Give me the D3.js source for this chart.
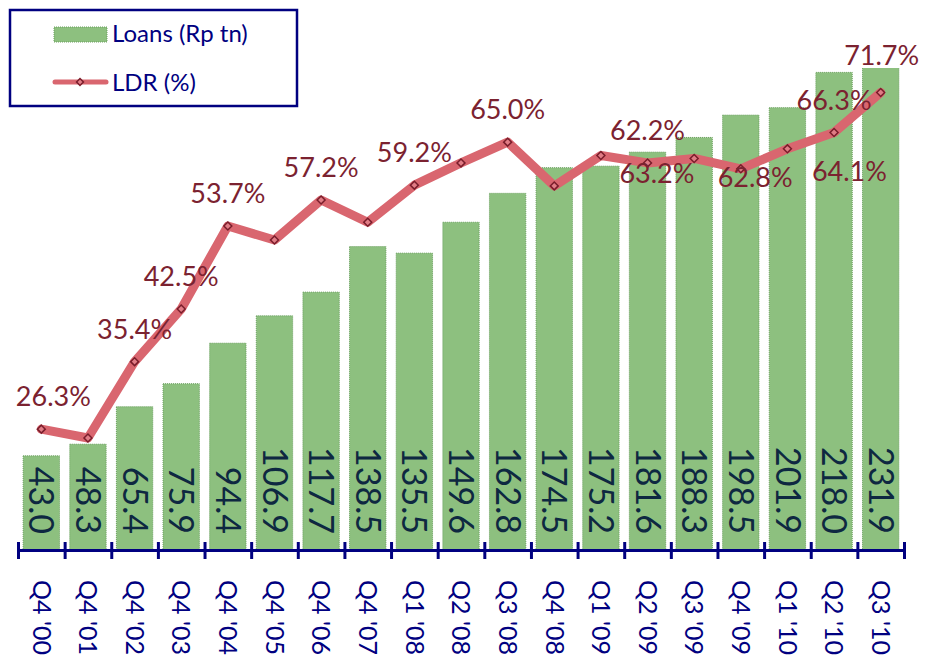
<!DOCTYPE html>
<html>
<head>
<meta charset="utf-8">
<script src="https://cdnjs.cloudflare.com/ajax/libs/d3/7.8.5/d3.min.js"></script>
<style>
    body { margin: 0; background: #fff; }
    svg { display: block; font-family: Lato, "Noto Sans", sans-serif; }
</style>
</head>
<body>
<div id="graph"></div>
<script>
var quarters = ["Q4 '00", "Q4 '01", "Q4 '02", "Q4 '03", "Q4 '04", "Q4 '05", "Q4 '06", "Q4 '07",
    "Q1 '08", "Q2 '08", "Q3 '08", "Q4 '08", "Q1 '09", "Q2 '09", "Q3 '09", "Q4 '09",
    "Q1 '10", "Q2 '10", "Q3 '10"];
var loans = [43.0, 48.3, 65.4, 75.9, 94.4, 106.9, 117.7, 138.5, 135.5, 149.6, 162.8, 174.5,
    175.2, 181.6, 188.3, 198.5, 201.9, 218.0, 231.9];
var ldr = [26.3, 25.1, 35.4, 42.5, 53.7, 51.8, 57.2, 54.2, 59.2, 62.2, 65.0, 59.1,
    63.2, 62.2, 62.8, 61.4, 64.1, 66.3, 71.7];
var ldrLabelled = [0, 2, 3, 4, 6, 8, 10, 12, 13, 14, 16, 17, 18];
var loansDomain = [0, 220];
var ldrDomain = [10, 75];
var legendNames = ["Loans (Rp tn)", "LDR (%)"];

(function () {
    var width = 926,
        height = 658;
    var plot = { left: 18, right: 904, top: 68, bottom: 550 };
    var navy = "#000080";

    // label nudges, like the hand-placed ones on the slide
    var labelShift = {
        0: [12, -23], 12: [56, 27], 14: [61, 29], 16: [62, 32], 18: [1, -27]
    };

    var svg = d3.select("#graph")
        .append("svg")
        .attr("width", width)
        .attr("height", height);

    var x = d3.scaleBand()
        .domain(quarters)
        .range([plot.left, plot.right])
        .paddingInner(0.22)
        .paddingOuter(0.11);

    var edge = d3.scaleLinear()
        .domain([0, quarters.length])
        .range([plot.left, plot.right]);

    var y = d3.scaleLinear()
        .domain(loansDomain)
        .range([plot.bottom, plot.top]);

    var y2 = d3.scaleLinear()
        .domain(ldrDomain)
        .range([plot.bottom, plot.top]);

    svg.append("defs").append("clipPath")
        .attr("id", "clip")
        .append("rect")
        .attr("x", 0)
        .attr("y", plot.top)
        .attr("width", width)
        .attr("height", plot.bottom - plot.top);

    // bars
    var bars = svg.append("g").attr("clip-path", "url(#clip)");
    bars.selectAll("rect")
        .data(loans)
        .enter().append("rect")
        .attr("x", function (d, i) { return x(quarters[i]); })
        .attr("y", function (d) { return y(d); })
        .attr("width", x.bandwidth())
        .attr("height", function (d) { return y(0) - y(d); })
        .attr("fill", "#8dc07f")
        .attr("stroke", "#6a9f5e")
        .attr("stroke-width", 1)
        .attr("stroke-dasharray", "1,1");

    bars.selectAll("text")
        .data(loans)
        .enter().append("text")
        .attr("transform", function (d, i) {
            return "translate(" + (x(quarters[i]) + x.bandwidth() / 2) + "," + (plot.bottom - 16) + ") rotate(90)";
        })
        .attr("text-anchor", "end")
        .attr("dy", "0.35em")
        .attr("font-size", "34px")
        .attr("fill", "#0e2841")
        .text(function (d) { return d.toFixed(1); });

    // x axis: ticks on band edges crossing the line
    var axis = svg.append("g")
        .attr("transform", "translate(0," + plot.bottom + ")")
        .call(d3.axisBottom(edge)
            .tickValues(d3.range(0, quarters.length + 1))
            .tickSize(9)
            .tickSizeOuter(0)
            .tickFormat(""));
    axis.select(".domain").attr("stroke", navy).attr("stroke-width", 3);
    axis.selectAll(".tick line").attr("stroke", navy).attr("stroke-width", 3).attr("y1", -8);

    svg.append("g").selectAll("text")
        .data(quarters)
        .enter().append("text")
        .attr("transform", function (d) {
            return "translate(" + (x(d) + x.bandwidth() / 2) + "," + (plot.bottom + 30) + ") rotate(90)";
        })
        .attr("dy", "0.35em")
        .attr("font-size", "25px")
        .attr("fill", navy)
        .text(function (d) { return d; });

    // LDR line
    var line = d3.line()
        .x(function (d, i) { return x(quarters[i]) + x.bandwidth() / 2; })
        .y(function (d) { return y2(d); });

    svg.append("path")
        .datum(ldr)
        .attr("d", line)
        .attr("fill", "none")
        .attr("stroke", "#d9666f")
        .attr("stroke-width", 9)
        .attr("stroke-linejoin", "round")
        .attr("stroke-linecap", "round");

    var diamond = d3.symbol().type(d3.symbolDiamond2).size(40);
    svg.append("g").selectAll("path")
        .data(ldr)
        .enter().append("path")
        .attr("d", diamond)
        .attr("transform", function (d, i) {
            return "translate(" + (x(quarters[i]) + x.bandwidth() / 2) + "," + y2(d) + ")";
        })
        .attr("fill", "#e07c85")
        .attr("stroke", "#7a1d2b")
        .attr("stroke-width", 1.5);

    svg.append("g").selectAll("text")
        .data(ldrLabelled)
        .enter().append("text")
        .attr("x", function (i) {
            var s = labelShift[i] || [0, -23];
            return x(quarters[i]) + x.bandwidth() / 2 + s[0];
        })
        .attr("y", function (i) {
            var s = labelShift[i] || [0, -23];
            return y2(ldr[i]) + s[1];
        })
        .attr("text-anchor", "middle")
        .attr("font-size", "27px")
        .attr("fill", "#7b2230")
        .text(function (i) { return ldr[i].toFixed(1) + "%"; });

    // legend
    var legend = svg.append("g");
    legend.append("rect")
        .attr("x", 10).attr("y", 10)
        .attr("width", 287).attr("height", 96)
        .attr("fill", "#fff")
        .attr("stroke", navy)
        .attr("stroke-width", 2.5);
    legend.append("rect")
        .attr("x", 54).attr("y", 27)
        .attr("width", 53).attr("height", 15)
        .attr("fill", "#8dc07f")
        .attr("stroke", "#6a9f5e")
        .attr("stroke-dasharray", "1,1");
    legend.append("line")
        .attr("x1", 55).attr("x2", 106)
        .attr("y1", 82).attr("y2", 82)
        .attr("stroke", "#d9666f")
        .attr("stroke-width", 5)
        .attr("stroke-linecap", "round");
    legend.append("path")
        .attr("d", d3.symbol().type(d3.symbolDiamond2).size(30))
        .attr("transform", "translate(80,82)")
        .attr("fill", "#e07c85")
        .attr("stroke", "#7a1d2b")
        .attr("stroke-width", 1.5);
    legend.selectAll("text.name")
        .data(legendNames)
        .enter().append("text")
        .attr("class", "name")
        .attr("x", 112)
        .attr("y", function (d, i) { return 42 + i * 49; })
        .attr("font-size", "24px")
        .attr("fill", navy)
        .text(function (d) { return d; });
})();
</script>
</body>
</html>
